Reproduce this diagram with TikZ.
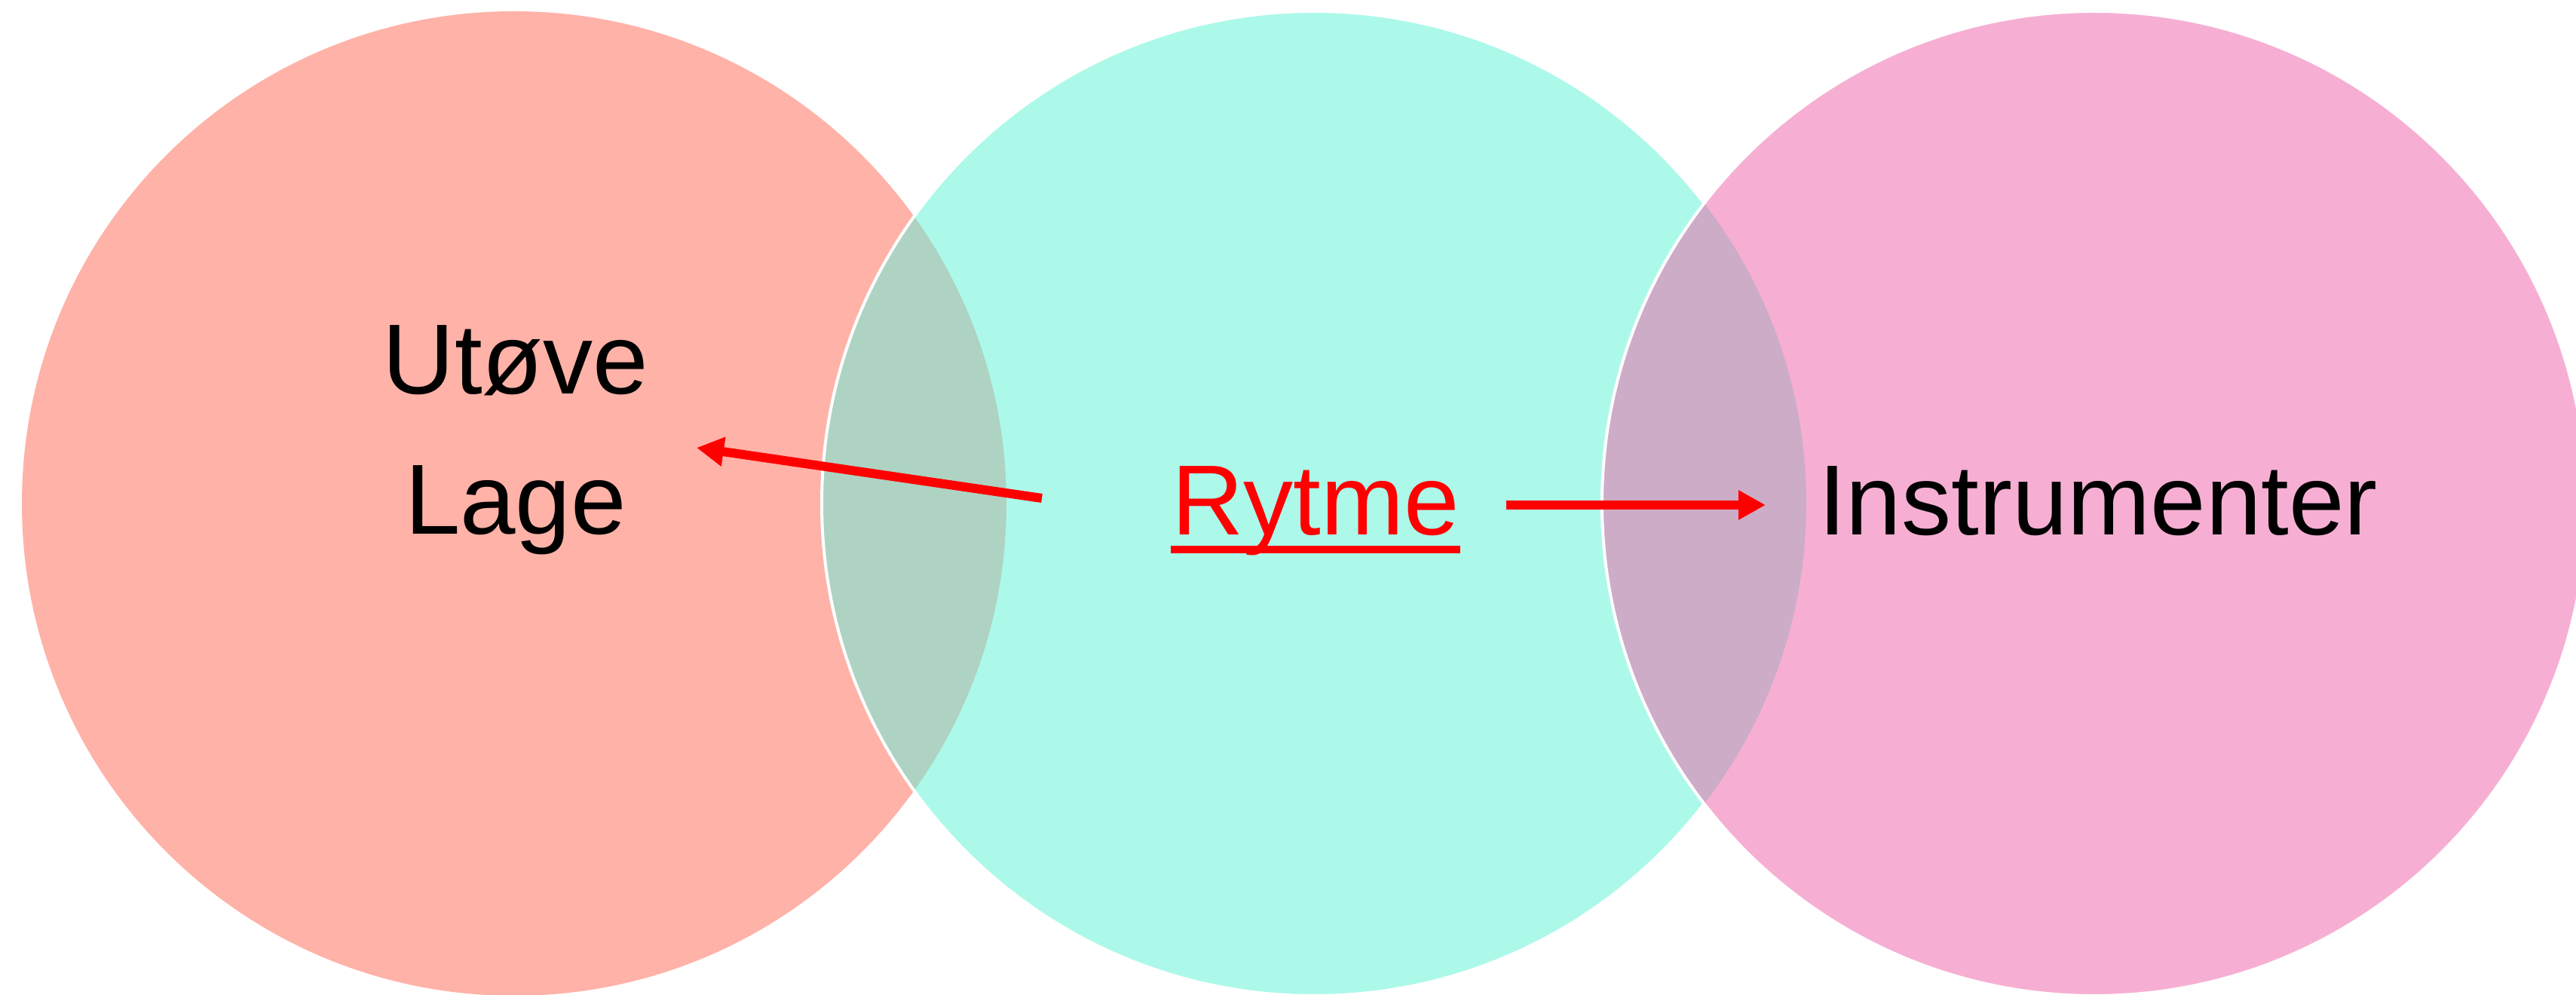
\documentclass[tikz,border=0pt]{standalone}
\usepackage{fontspec}
\setmainfont{Liberation Sans}
\usepackage{xcolor}
\usetikzlibrary{arrows.meta}

\definecolor{leftring}{HTML}{FFB2A8}
\definecolor{midring}{HTML}{ACF9EA}
\definecolor{rightring}{HTML}{F6AFD3}
\definecolor{leftlens}{HTML}{AED3C3}
\definecolor{rightlens}{HTML}{CDACC8}
\newcommand{\bigword}{\fontsize{37.6pt}{52.9pt}\selectfont}

\begin{document}
\begin{tikzpicture}[
  word/.style={inner sep=0pt, anchor=base, font=\bigword},
  pointer/.style={draw=red, line width=0.12cm, -{Triangle[length=0.36cm,width=0.37cm]}},
  rim/.style={draw=white, line width=0.04cm}
]
  \useasboundingbox (0,0) rectangle (34.17,13.2);
  % circles and overlaps
  \fill[leftring] (6.82,6.52) circle [radius=6.53];
  \fill[midring] (17.43,6.52) circle [radius=6.53];
  \begin{scope}
    \clip (6.82,6.52) circle [radius=6.53];
    \fill[leftlens] (17.43,6.52) circle [radius=6.53];
  \end{scope}
  \draw[rim] (17.43,6.52) circle [radius=6.53];
  \fill[rightring] (27.78,6.52) circle [radius=6.53];
  \begin{scope}
    \clip (17.43,6.52) circle [radius=6.53];
    \fill[rightlens] (27.78,6.52) circle [radius=6.53];
  \end{scope}
  \draw[rim] (27.78,6.52) circle [radius=6.53];

  % texts
  \node[word] (utove) at (6.84,7.97) {Utøve};
  \node[word] (lage) at (6.84,6.11) {Lage};
  \node[word, text=red] (rytme) at (17.45,6.10) {Rytme};
  \node[word] (instr) at (27.83,6.10) {Instrumenter};
  \draw[red, line width=0.1cm] ([yshift=-0.19cm]rytme.base west) -- ([yshift=-0.19cm]rytme.base east);

  % arrows
  \coordinate (fromL) at (13.82,6.59);
  \coordinate (toL) at (9.24,7.26);
  \coordinate (fromR) at (19.98,6.50);
  \coordinate (toR) at (23.42,6.50);
  \draw[pointer] (fromL) -- (toL);
  \draw[pointer] (fromR) -- (toR);
\end{tikzpicture}
\end{document}
